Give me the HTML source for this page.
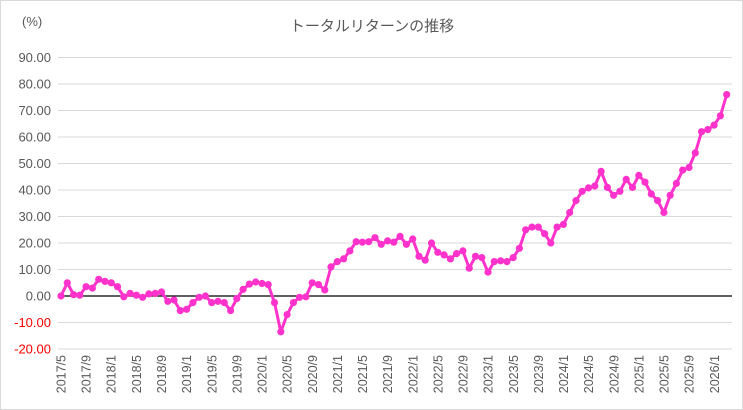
<!DOCTYPE html>
<html><head><meta charset="utf-8"><style>
body{margin:0;background:#fff}
svg{display:block;font-family:"Liberation Sans","Noto Sans CJK JP",sans-serif}
</style></head><body>
<svg width="743" height="410" viewBox="0 0 743 410">
<rect x="0.5" y="0.5" width="742" height="409" fill="#fff" stroke="#d9d9d9"/>
<text x="372" y="31" font-size="15" fill="#595959" text-anchor="middle">トータルリターンの推移</text>
<text x="22" y="26" font-size="13" fill="#595959">(%)</text>
<g stroke="#d9d9d9" stroke-width="1">
<line x1="58" x2="732" y1="57.5" y2="57.5"/><line x1="58" x2="732" y1="84" y2="84"/><line x1="58" x2="732" y1="110.5" y2="110.5"/><line x1="58" x2="732" y1="137" y2="137"/><line x1="58" x2="732" y1="163.5" y2="163.5"/><line x1="58" x2="732" y1="190" y2="190"/><line x1="58" x2="732" y1="216.5" y2="216.5"/><line x1="58" x2="732" y1="243" y2="243"/><line x1="58" x2="732" y1="269.5" y2="269.5"/><line x1="58" x2="732" y1="322.5" y2="322.5"/><line x1="58" x2="732" y1="349" y2="349"/>
</g>
<line x1="58" x2="732" y1="296" y2="296" stroke="#000" stroke-width="1.2"/>
<g font-size="13" fill="#595959" text-anchor="end">
<text x="51" y="62">90.00</text><text x="51" y="88.5">80.00</text><text x="51" y="115">70.00</text><text x="51" y="141.5">60.00</text><text x="51" y="168">50.00</text><text x="51" y="194.5">40.00</text><text x="51" y="221">30.00</text><text x="51" y="247.5">20.00</text><text x="51" y="274">10.00</text><text x="51" y="300.5">0.00</text>
<text x="51" y="327" fill="#ff0000">-10.00</text><text x="51" y="353.5" fill="#ff0000">-20.00</text>
</g>
<g font-size="12.5" fill="#595959" text-anchor="end">
<text transform="translate(65.5,355) rotate(-90)">2017/5</text>
<text transform="translate(90.6,355) rotate(-90)">2017/9</text>
<text transform="translate(115.7,355) rotate(-90)">2018/1</text>
<text transform="translate(140.9,355) rotate(-90)">2018/5</text>
<text transform="translate(166,355) rotate(-90)">2018/9</text>
<text transform="translate(191.1,355) rotate(-90)">2019/1</text>
<text transform="translate(216.3,355) rotate(-90)">2019/5</text>
<text transform="translate(241.4,355) rotate(-90)">2019/9</text>
<text transform="translate(266.5,355) rotate(-90)">2020/1</text>
<text transform="translate(291.6,355) rotate(-90)">2020/5</text>
<text transform="translate(316.8,355) rotate(-90)">2020/9</text>
<text transform="translate(341.9,355) rotate(-90)">2021/1</text>
<text transform="translate(367,355) rotate(-90)">2021/5</text>
<text transform="translate(392.2,355) rotate(-90)">2021/9</text>
<text transform="translate(417.3,355) rotate(-90)">2022/1</text>
<text transform="translate(442.4,355) rotate(-90)">2022/5</text>
<text transform="translate(467.6,355) rotate(-90)">2022/9</text>
<text transform="translate(492.7,355) rotate(-90)">2023/1</text>
<text transform="translate(517.8,355) rotate(-90)">2023/5</text>
<text transform="translate(543,355) rotate(-90)">2023/9</text>
<text transform="translate(568.1,355) rotate(-90)">2024/1</text>
<text transform="translate(593.2,355) rotate(-90)">2024/5</text>
<text transform="translate(618.3,355) rotate(-90)">2024/9</text>
<text transform="translate(643.5,355) rotate(-90)">2025/1</text>
<text transform="translate(668.6,355) rotate(-90)">2025/5</text>
<text transform="translate(693.7,355) rotate(-90)">2025/9</text>
<text transform="translate(718.9,355) rotate(-90)">2026/1</text>
</g>
<g id="series"></g>
</svg>
<script>
var v=[0,5,0.5,0.3,3.5,3,6.3,5.5,5,3.5,-0.3,1,0.3,-0.5,0.8,1,1.5,-2,-1.5,-5.5,-5,-2.5,-0.5,0,-2.5,-2,-2.5,-5.5,-1,2.5,4.5,5.3,4.7,4.3,-2.5,-13.5,-7,-2.5,-0.5,-0.3,5,4.3,2.3,11,13,14,17,20.5,20.3,20.5,22,19.5,20.8,20.3,22.5,19.5,21.5,15,13.5,20,16.5,15.5,14,16,17,10.5,15,14.5,9,13,13.3,13,14.5,18,25,26,26,23.5,20,26,27,31.5,36,39.5,40.8,41.5,47,41,38,39.5,44,41,45.5,43,38.5,36,31.5,38,42.5,47.5,48.5,54,62,62.8,64.5,68,76];
var ns="http://www.w3.org/2000/svg",g=document.getElementById("series"),pts=[];
for(var i=0;i<v.length;i++){var x=61+6.28*i,y=296-2.65*v[i];pts.push(x.toFixed(1)+","+y.toFixed(1));}
var pl=document.createElementNS(ns,"polyline");pl.setAttribute("points",pts.join(" "));pl.setAttribute("fill","none");pl.setAttribute("stroke","#ff33cc");pl.setAttribute("stroke-width","3");pl.setAttribute("stroke-linejoin","round");g.appendChild(pl);
for(var i=0;i<pts.length;i++){var p=pts[i].split(","),c=document.createElementNS(ns,"circle");c.setAttribute("cx",p[0]);c.setAttribute("cy",p[1]);c.setAttribute("r","3.6");c.setAttribute("fill","#ff33cc");g.appendChild(c);}
</script>
</body></html>
